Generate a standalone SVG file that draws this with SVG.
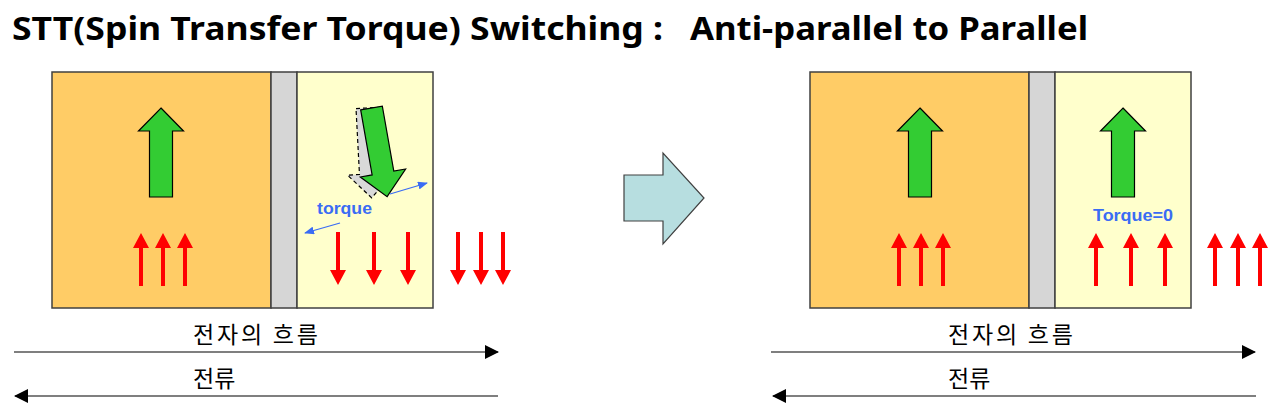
<svg xmlns="http://www.w3.org/2000/svg" width="1283" height="420" viewBox="0 0 1283 420">
<style>
.title{font-family:"Noto Sans","Noto Sans CJK KR",sans-serif;font-weight:bold;font-size:33px;fill:#000}
.lbl{font-family:"Noto Sans CJK KR","Noto Sans",sans-serif;font-size:23px;fill:#000}
.blue{font-family:"Liberation Sans",Arial,sans-serif;font-weight:bold;font-size:17px;fill:#3A6CF4}
.orange{fill:#FFCC66;stroke:#404040;stroke-width:1.5}
.gray{fill:#D6D6D6;stroke:#404040;stroke-width:1.5}
.yellow{fill:#FFFFCC;stroke:#404040;stroke-width:1.5}
.green{fill:#33CC33;stroke:#000;stroke-width:1.2}
.red{fill:#FF0000}
.flow{stroke:#000;stroke-width:1.2;fill:none}
.tq{stroke:#3A6CF4;stroke-width:1.3;fill:none}
</style>
<defs>
<path id="rUp" d="M0,0 L8,15 L2,15 L2,53 L-2,53 L-2,15 L-8,15 Z"/>
<path id="gUp" d="M0,0 L22.5,23 L11.5,23 L11.5,89 L-11.5,89 L-11.5,23 L-22.5,23 Z"/>
<path id="gDown" d="M-11,0 L11,0 L11,66 L23,66 L0,90 L-23,66 L-11,66 Z"/>
<marker id="ah" viewBox="0 0 14 14" refX="13" refY="7" markerWidth="14" markerHeight="14" markerUnits="userSpaceOnUse" orient="auto">
<path d="M0,0 L14,7 L0,14 Z" fill="#000"/>
</marker>
<marker id="bh" viewBox="0 0 10 8" refX="9" refY="4" markerWidth="10" markerHeight="8" markerUnits="userSpaceOnUse" orient="auto">
<path d="M0,0 L10,4 L0,8 Z" fill="#3A6CF4"/>
</marker>
</defs>

<g id="title">
<text class="title" x="12" y="40" textLength="651" lengthAdjust="spacingAndGlyphs">STT(Spin Transfer Torque) Switching :</text>
<text class="title" x="690" y="40" textLength="398" lengthAdjust="spacingAndGlyphs">Anti-parallel to Parallel</text>
</g>

<g id="left-cell">
<rect class="orange" x="52" y="72" width="219" height="236"/>
<rect class="gray" x="271" y="72" width="26" height="236"/>
<rect class="yellow" x="297" y="72" width="136" height="236"/>
<use href="#gUp" class="green" transform="translate(161,108)"/>
<use href="#gDown" fill="#D9D9D9" stroke="#000" stroke-width="1.2" stroke-dasharray="4,3" transform="translate(367,108) rotate(-3)"/>
<use href="#gDown" class="green" transform="translate(371.5,108) rotate(-10)"/>
<text class="blue" x="317" y="214" textLength="55" lengthAdjust="spacingAndGlyphs">torque</text>
<use href="#rUp" class="red" transform="translate(141,233)"/>
<use href="#rUp" class="red" transform="translate(163,233)"/>
<use href="#rUp" class="red" transform="translate(185,233)"/>
<use href="#rUp" class="red" transform="translate(338,285) rotate(180)"/>
<use href="#rUp" class="red" transform="translate(374,285) rotate(180)"/>
<use href="#rUp" class="red" transform="translate(408,285) rotate(180)"/>
<use href="#rUp" class="red" transform="translate(458,285) rotate(180)"/>
<use href="#rUp" class="red" transform="translate(481,285) rotate(180)"/>
<use href="#rUp" class="red" transform="translate(503,285) rotate(180)"/>
</g>

<g id="transition-arrow">
<path d="M624,175 L663,175 L663,153 L704,198 L663,244 L663,221 L624,221 Z" fill="#B7DEE0" stroke="#404040" stroke-width="1.2"/>
</g>

<g id="right-cell">
<rect class="orange" x="810" y="72" width="219" height="236"/>
<rect class="gray" x="1029" y="72" width="26" height="236"/>
<rect class="yellow" x="1055" y="72" width="136" height="236"/>
<use href="#gUp" class="green" transform="translate(920,108)"/>
<use href="#gUp" class="green" transform="translate(1123,108)"/>
<text class="blue" x="1093" y="221" font-size="16" textLength="80" lengthAdjust="spacingAndGlyphs">Torque=0</text>
<use href="#rUp" class="red" transform="translate(899,233)"/>
<use href="#rUp" class="red" transform="translate(921,233)"/>
<use href="#rUp" class="red" transform="translate(943,233)"/>
<use href="#rUp" class="red" transform="translate(1096,233)"/>
<use href="#rUp" class="red" transform="translate(1131,233)"/>
<use href="#rUp" class="red" transform="translate(1165,233)"/>
<use href="#rUp" class="red" transform="translate(1215,233)"/>
<use href="#rUp" class="red" transform="translate(1238,233)"/>
<use href="#rUp" class="red" transform="translate(1260,233)"/>
</g>

<g id="labels">
<text class="lbl" x="193" y="343" textLength="125" lengthAdjust="spacing">전자의 흐름</text>
<text class="lbl" x="193" y="387">전류</text>
<text class="lbl" x="948" y="343" textLength="125" lengthAdjust="spacing">전자의 흐름</text>
<text class="lbl" x="948" y="387">전류</text>
</g>

<g id="connectors">
<line class="tq" x1="390" y1="194" x2="427" y2="183" marker-end="url(#bh)"/>
<line class="tq" x1="340" y1="223" x2="305" y2="233" marker-end="url(#bh)"/>
<line class="flow" x1="14" y1="352" x2="498" y2="352" marker-end="url(#ah)"/>
<line class="flow" x1="498" y1="396" x2="15" y2="396" marker-end="url(#ah)"/>
<line class="flow" x1="771" y1="352" x2="1255" y2="352" marker-end="url(#ah)"/>
<line class="flow" x1="1256" y1="396" x2="773" y2="396" marker-end="url(#ah)"/>
</g>
</svg>
